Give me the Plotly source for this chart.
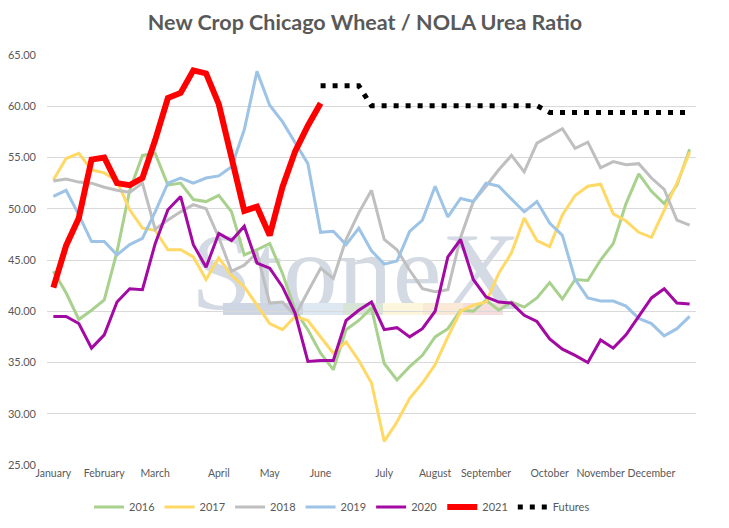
import plotly.graph_objects as go

# ---------------- data (weekly index 0..50) ----------------
weeks = list(range(51))
month_labels = ["January", "February", "March", "April", "May", "June", "July",
                "August", "September", "October", "November", "December"]
month_pos = [0, 4, 8, 13, 17, 21, 26, 30, 34, 39, 43, 47]

y2016 = [43.9, 41.8, 39.2, 40.1, 41.1, 45.8, 51.8, 55.2, 55.4, 52.3, 52.5, 50.9, 50.7, 51.3,
         49.7, 45.5, 46.0, 46.6, 43.7, 40.1, 38.2, 35.9, 34.3, 38.2, 39.1, 40.3, 34.9, 33.3,
         34.6, 35.7, 37.5, 38.3, 40.1, 40.0, 41.1, 40.1, 40.9, 40.4, 41.3, 42.8, 41.2, 43.1,
         43.0, 45.0, 46.6, 50.5, 53.4, 51.7, 50.5, 52.3, 55.8]
y2017 = [52.8, 54.9, 55.4, 53.8, 53.5, 52.7, 49.9, 48.1, 47.9, 46.0, 46.0, 45.3, 43.1, 45.2,
         43.5, 42.4, 40.6, 38.8, 38.2, 39.5, 39.1, 37.5, 35.9, 37.0, 35.2, 33.0, 27.3, 29.2,
         31.5, 33.0, 34.8, 37.5, 40.0, 40.6, 40.9, 43.7, 45.7, 49.1, 46.9, 46.3, 49.4, 51.3,
         52.2, 52.4, 49.5, 48.8, 47.7, 47.2, 49.9, 52.5, 55.5]
y2018 = [52.7, 52.9, 52.6, 52.5, 52.1, 51.8, 51.6, 52.5, 48.0, 48.9, 49.7, 50.4, 50.0, 47.2,
         43.9, 44.5, 45.7, 40.8, 40.9, 39.6, 41.9, 44.2, 43.2, 47.0, 49.6, 51.8, 47.0, 46.0,
         44.0, 42.2, 41.9, 42.1, 47.2, 50.7, 52.2, 53.8, 55.2, 53.6, 56.4, 57.1, 57.8, 55.9,
         56.5, 54.0, 54.6, 54.3, 54.4, 53.0, 51.9, 48.9, 48.4]
y2019 = [51.2, 51.8, 49.4, 46.8, 46.8, 45.5, 46.5, 47.1, 49.7, 52.5, 53.0, 52.5, 53.0, 53.2,
         54.1, 57.7, 63.4, 60.1, 58.5, 56.4, 54.4, 47.7, 47.8, 46.5, 48.1, 45.9, 44.6, 44.9,
         47.8, 48.9, 52.2, 49.2, 51.0, 50.7, 52.5, 52.2, 50.9, 49.7, 50.7, 48.6, 47.4, 43.1,
         41.3, 41.0, 41.0, 40.5, 39.3, 38.8, 37.6, 38.3, 39.5]
y2020 = [39.5, 39.5, 38.8, 36.4, 37.7, 40.9, 42.2, 42.1, 46.6, 49.9, 51.2, 46.5, 44.3, 47.6,
         46.9, 48.3, 44.7, 44.2, 42.4, 39.8, 35.1, 35.2, 35.2, 39.1, 40.1, 40.9, 38.2, 38.4,
         37.5, 38.3, 40.0, 45.3, 47.0, 43.1, 41.4, 40.9, 40.8, 39.6, 39.0, 37.3, 36.3, 35.7,
         35.0, 37.2, 36.4, 37.7, 39.5, 41.3, 42.2, 40.8, 40.7]
y2021 = [42.3, 46.4, 49.1, 54.8, 55.0, 52.5, 52.3, 53.0, 56.7, 60.8, 61.3, 63.5, 63.2, 60.2,
         55.0, 49.8, 50.2, 47.4, 52.1, 55.6, 58.1, 60.3]
x_futures = list(range(21, 51))
y_futures = [62.0, 62.0, 62.0, 62.0] + [60.05] * 14 + [59.4] * 12

series = [
    ("2016", y2016, "#A9D18E", 3),
    ("2017", y2017, "#FFD966", 3),
    ("2018", y2018, "#BFBFBF", 3),
    ("2019", y2019, "#9DC3E6", 3),
    ("2020", y2020, "#A30AA3", 3),
    ("2021", y2021, "#FF0000", 6),
]

fig = go.Figure()
for name, ys, color, w in series:
    fig.add_trace(go.Scatter(x=weeks[:len(ys)], y=ys, name=name, mode="lines",
                             line=dict(color=color, width=w)))
fig.add_trace(go.Scatter(x=x_futures, y=y_futures, name="Futures", mode="lines",
                         line=dict(color="#000000", width=5, dash="5px,7px")))

# ---------------- geometry (page body has an 8px margin) ----------------
OFF = 8
W, H = 729 - 2 * OFF, 528 - 2 * OFF
L, R, T, B = 47 - OFF, W - (696 - OFF), 55 - OFF, H - (465 - OFF)
pw, ph = W - L - R, H - T - B
def px(x):
    return (x - OFF - L) / pw
def py(y):
    return (H - B - (y - OFF)) / ph

# ---------------- watermark (below traces) ----------------
shapes = [dict(type="rect", xref="paper", yref="paper", x0=px(200), x1=px(512),
               y0=py(307), y1=py(213), line=dict(width=0), layer="below",
               label=dict(text="StoneX", font=dict(family="Liberation Serif", size=110,
                                                  color="#D3DAE3"),
                          textposition="middle center"))]
band = [(223, 303, "#CDD6E2"), (303, 343, "#DDE8F3"), (343, 383, "#D7E4D6"),
        (383, 423, "#FBF6DC"), (423, 463, "#FBE9D8"), (463, 503, "#F6DDDD")]
for x0, x1, c in band:
    shapes.append(dict(type="rect", xref="paper", yref="paper", x0=px(x0), x1=px(x1),
                       y0=py(315), y1=py(303), fillcolor=c, line=dict(width=0),
                       layer="below"))

fig.update_layout(
    width=W, height=H,
    margin=dict(l=L, r=R, t=T, b=B, autoexpand=False),
    paper_bgcolor="white", plot_bgcolor="white",
    font=dict(family="Lato", size=11, color="#595959"),
    title=dict(text="<b>New Crop Chicago Wheat / NOLA Urea Ratio</b>",
               x=px(365), xref="paper", xanchor="center",
               y=1 - (22 - OFF) / H, yanchor="middle",
               font=dict(family="Lato", size=21.5, color="#595959")),
    xaxis=dict(range=[-0.5, 50.5], tickmode="array", tickvals=month_pos,
               ticktext=month_labels, tickangle=0, automargin=False,
               showgrid=False, zeroline=False, showline=False, ticks="",
               tickfont=dict(size=10.5, color="#595959")),
    yaxis=dict(range=[25, 65], tickmode="array", tickvals=list(range(25, 66, 5)),
               tickformat=".2f", showgrid=True, gridcolor="#D9D9D9", gridwidth=1,
               automargin=False, zeroline=False, showline=False, ticks="",
               ticklabelstandoff=10, tickfont=dict(size=11, color="#595959")),
    legend=dict(orientation="h", x=px(342), xanchor="center", y=py(507),
                yanchor="middle", font=dict(size=11, color="#595959"), itemwidth=30,
                bgcolor="rgba(0,0,0,0)"),
    shapes=shapes,
    showlegend=True,
)

fig.write_html("out.html")
